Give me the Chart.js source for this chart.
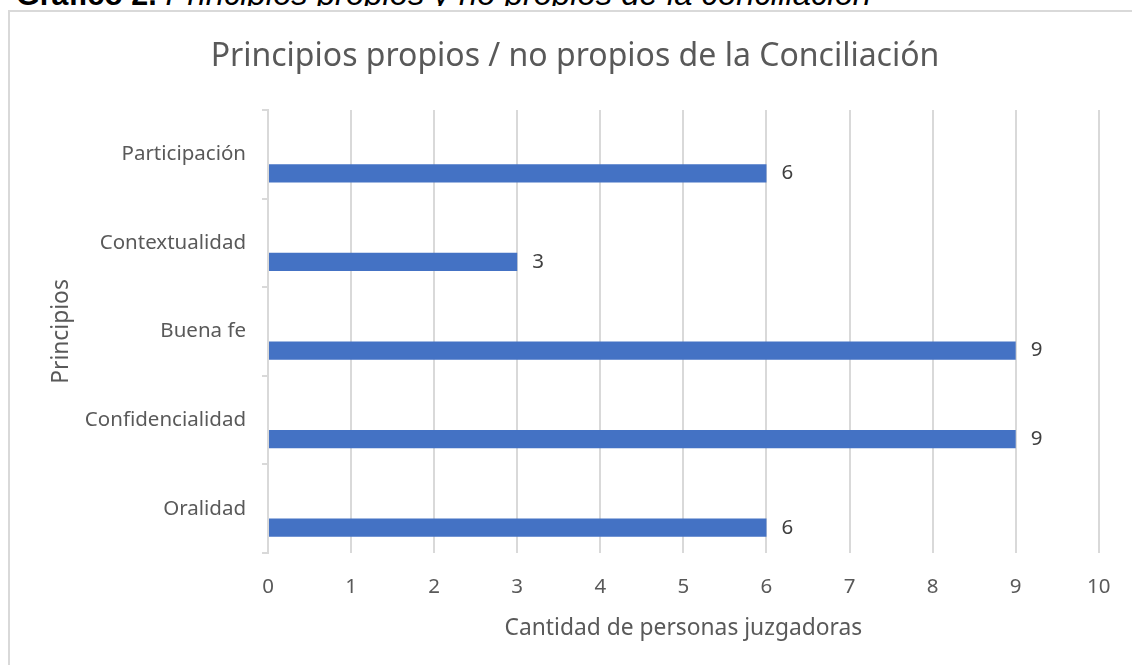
<!DOCTYPE html>
<html><head><meta charset="utf-8">
<script src="https://cdn.jsdelivr.net/npm/chart.js@4.4.1/dist/chart.umd.min.js"></script>
<style>
html,body{margin:0;padding:0;background:#fff;width:1132px;height:665px;overflow:hidden;}
#caption{position:absolute;left:16px;top:-21px;font-family:"Liberation Sans",Arial,sans-serif;color:#000;white-space:nowrap;line-height:30px;font-size:32px;}
#caption b{font-size:30.5px;}
#caption i{font-size:32.8px;}
#cover{position:absolute;left:0;top:6px;width:1132px;height:700px;background:#fff;}
#frame{position:absolute;left:8px;top:10px;width:1200px;height:800px;border:2px solid #d9d9d9;box-sizing:border-box;}
#wrap{position:absolute;left:0;top:0;width:1132px;height:665px;}
</style></head><body>
<div id="caption"><b>Gráfico 2.</b> <i>Principios propios y no propios de la conciliación</i></div>
<div id="cover"></div>
<div id="frame"></div>
<div id="wrap"><canvas id="c" width="1132" height="665"></canvas></div>
<script>
const categorias = ['Participación', 'Contextualidad', 'Buena fe', 'Confidencialidad', 'Oralidad'];
const valores = [6, 3, 9, 9, 6];
const serieVacia = [null, null, null, null, null];
const ticksX = [0, 1, 2, 3, 4, 5, 6, 7, 8, 9, 10];
const tituloGrafico = 'Principios propios / no propios de la Conciliación';
const tituloX = 'Cantidad de personas juzgadoras';
const tituloY = 'Principios';

const FONT = '"Noto Sans", "Open Sans", sans-serif';

const valueLabels = {
  id: 'valueLabels',
  afterDatasetsDraw(chart) {
    const ctx = chart.ctx;
    const meta = chart.getDatasetMeta(1);
    ctx.save();
    ctx.font = '20.5px ' + FONT;
    ctx.fillStyle = '#404040';
    ctx.textAlign = 'left';
    ctx.textBaseline = 'middle';
    meta.data.forEach((el, i) => {
      if (valores[i] != null) ctx.fillText(String(valores[i]), el.x + 15, el.y);
    });
    ctx.restore();
  }
};

new Chart(document.getElementById('c'), {
  type: 'bar',
  data: {
    labels: categorias,
    datasets: [
      { label: 'Serie 2', data: serieVacia, backgroundColor: '#ED7D31', categoryPercentage: 0.858, barPercentage: 0.48 },
      { label: 'Serie 1', data: valores, backgroundColor: '#4472C4', categoryPercentage: 0.858, barPercentage: 0.48 }
    ]
  },
  options: {
    indexAxis: 'y',
    responsive: false,
    animation: false,
    devicePixelRatio: 1,
    layout: { padding: { top: 0, left: 48, right: 30, bottom: 0 } },
    plugins: {
      legend: { display: false },
      tooltip: { enabled: false },
      title: {
        display: true,
        text: tituloGrafico,
        color: '#595959',
        font: { family: FONT, size: 32, weight: 'normal', lineHeight: 1.2 },
        padding: { top: 38, bottom: 33.6 }
      }
    },
    scales: {
      x: {
        type: 'linear',
        min: 0, max: 10,
        afterBuildTicks(scale) { scale.ticks = ticksX.map(v => ({ value: v })); },
        afterFit(scale) { scale.height = 112; },
        ticks: { color: '#595959', font: { family: FONT, size: 20.5 }, padding: 21.5, maxRotation: 0 },
        grid: { color: '#d9d9d9', lineWidth: 2, drawTicks: false },
        border: { display: false },
        title: { display: true, text: tituloX, color: '#595959', font: { family: FONT, size: 22.8 }, padding: { bottom: 23 } }
      },
      y: {
        type: 'category',
        afterFit(scale) { scale.width = 220; },
        ticks: { color: '#595959', font: { family: FONT, size: 20.5 }, padding: 16 },
        grid: { color: '#d9d9d9', lineWidth: 2, drawOnChartArea: false, drawTicks: true, tickLength: 6, offset: true },
        border: { display: true, color: '#d9d9d9', width: 2 },
        title: { display: true, text: tituloY, color: '#595959', font: { family: FONT, size: 22.8 }, padding: { top: 0 } }
      }
    }
  },
  plugins: [valueLabels]
});
</script>
</body></html>
